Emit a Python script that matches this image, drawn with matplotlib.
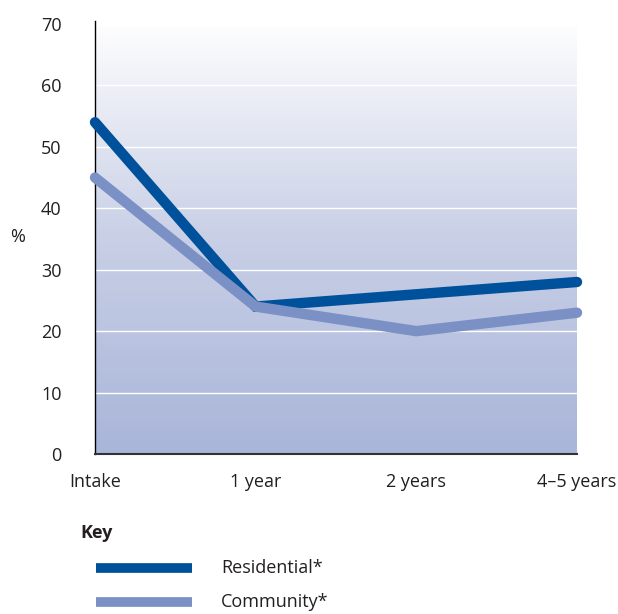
import matplotlib.pyplot as plt
import numpy as np
from matplotlib.colors import LinearSegmentedColormap
from matplotlib.lines import Line2D

plt.rcParams['font.family'] = ['Open Sans', 'DejaVu Sans']

categories = ["Intake", "1 year", "2 years", "4\u20135 years"]
residential = [54, 24, 26, 28]
community = [45, 24, 20, 23]
y_ticks = [0, 10, 20, 30, 40, 50, 60, 70]

RES_COLOR = "#00519b"
COM_COLOR = "#7b90c4"
TEXT = "#231f20"
FS = 13

fig = plt.figure(figsize=(6.18, 6.14), dpi=100)
ax = fig.add_axes([95 / 618, 1 - 454 / 614, 482 / 618, 430 / 614])

x = np.arange(len(categories))
ax.set_xlim(0, len(categories) - 1)
ax.set_ylim(0, 70)

# vertical gradient backdrop, pale at the top to lavender at the bottom
grad = LinearSegmentedColormap.from_list("bg", ["#a9b5d9", "#c8cfe6", "#fdfdfe"])
ax.imshow(np.linspace(0, 1, 256).reshape(-1, 1), aspect="auto", cmap=grad,
          origin="lower", extent=[0, len(categories) - 1, 0, 69.4], zorder=0)

for yv in y_ticks[1:-1]:
    ax.axhline(yv, color="white", linewidth=1.0, zorder=1)

ax.plot(x, residential, color=RES_COLOR, linewidth=7.5, solid_capstyle="round",
        solid_joinstyle="miter", zorder=3, clip_on=False)
ax.plot(x, community, color=COM_COLOR, linewidth=7.5, solid_capstyle="round",
        solid_joinstyle="miter", zorder=4, clip_on=False)

for side in ("top", "right"):
    ax.spines[side].set_visible(False)
ax.spines["left"].set_color("black")
ax.spines["left"].set_linewidth(1.0)
ax.spines["left"].set_bounds(0, 70.5)
ax.spines["bottom"].set_color("#333333")
ax.spines["bottom"].set_linewidth(1.5)

ax.set_yticks(y_ticks)
ax.set_xticks(x)
ax.set_xticklabels(categories)
ax.tick_params(axis="both", length=0, labelsize=FS, colors=TEXT)
ax.tick_params(axis="y", pad=24)
ax.tick_params(axis="x", pad=14)

fig.text(18 / 618, 1 - 237 / 614, "%", fontsize=FS, color=TEXT,
         ha="center", va="center")

# key beneath the chart
fig.text(80 / 618, 1 - 533 / 614, "Key", fontsize=FS, fontweight="bold",
         color=TEXT, ha="left", va="center")
for ypix, color, label in [(568, RES_COLOR, "Residential*"), (602, COM_COLOR, "Community*")]:
    yf = 1 - ypix / 614
    fig.add_artist(Line2D([96 / 618, 192 / 618], [yf, yf], color=color,
                          linewidth=7, solid_capstyle="butt"))
    fig.text(221 / 618, yf, label, fontsize=FS, color=TEXT, ha="left", va="center")

fig.savefig("out.png", dpi=100)
